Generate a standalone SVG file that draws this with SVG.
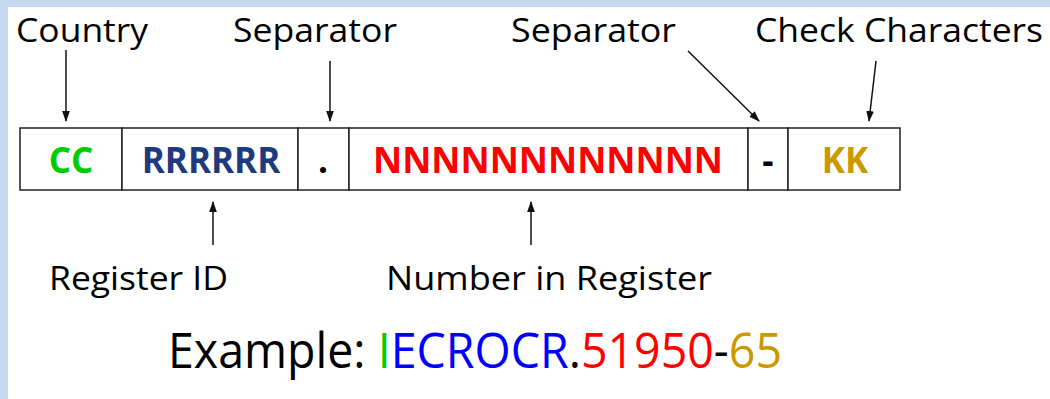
<svg xmlns="http://www.w3.org/2000/svg" width="1050" height="399" viewBox="0 0 1050 399">
<defs>
<style>
.lbl{font-family:"Open Sans","Noto Sans","Liberation Sans",sans-serif;font-size:32px;fill:#000}
.cell{font-family:"Open Sans","Noto Sans","Liberation Sans",sans-serif;font-size:35px;font-weight:bold;text-anchor:middle}
.box{fill:#fff;stroke:#222;stroke-width:1.5}
.conn line{stroke:#111;stroke-width:1.5;marker-end:url(#ah)}
</style>
<marker id="ah" viewBox="0 0 10 10" refX="9" refY="5" markerWidth="11" markerHeight="11" markerUnits="userSpaceOnUse" orient="auto"><path d="M0,1.5 L10,5 L0,8.5 z" fill="#111"/></marker>
</defs>
<rect x="0" y="0" width="1050" height="399" fill="#c6d9f1"/>
<rect x="8" y="7" width="1042" height="392" fill="#fff"/>

<g id="labels">
<text id="lbl-country" class="lbl" x="16" y="42" textLength="132" lengthAdjust="spacingAndGlyphs">Country</text>
<text id="lbl-sep1" class="lbl" x="233" y="42" textLength="164" lengthAdjust="spacingAndGlyphs">Separator</text>
<text id="lbl-sep2" class="lbl" x="511" y="42" textLength="165" lengthAdjust="spacingAndGlyphs">Separator</text>
<text id="lbl-check" class="lbl" x="755" y="42" textLength="288" lengthAdjust="spacingAndGlyphs">Check Characters</text>
<text id="lbl-reg" class="lbl" x="49" y="290" textLength="179" lengthAdjust="spacingAndGlyphs">Register ID</text>
<text id="lbl-num" class="lbl" x="386" y="290" textLength="326" lengthAdjust="spacingAndGlyphs">Number in Register</text>
</g>

<g id="format-box">
<g id="cell-cc"><rect class="box" x="20" y="128" width="102" height="62"/><text class="cell" x="71" y="173" fill="#00cc00">CC</text></g>
<g id="cell-r"><rect class="box" x="122" y="128" width="176" height="62"/><text class="cell" x="211" y="173" fill="#1f3a7e">RRRRRR</text></g>
<g id="cell-dot"><rect class="box" x="298" y="128" width="51" height="62"/><text class="cell" x="323" y="173" fill="#000">.</text></g>
<g id="cell-n"><rect class="box" x="349" y="128" width="399" height="62"/><text class="cell" x="548" y="173" fill="#ff0000" textLength="350" lengthAdjust="spacingAndGlyphs">NNNNNNNNNNNN</text></g>
<g id="cell-dash"><rect class="box" x="748" y="128" width="40" height="62"/><text class="cell" x="768" y="173" fill="#000">-</text></g>
<g id="cell-kk"><rect class="box" x="788" y="128" width="112" height="62"/><text class="cell" x="845" y="173" fill="#cc9900">KK</text></g>
</g>

<g id="connectors" class="conn">
<line x1="66" y1="50" x2="66" y2="121"/>
<line x1="330" y1="61" x2="330" y2="121"/>
<line x1="688" y1="51" x2="759" y2="121"/>
<line x1="876" y1="61" x2="869" y2="121"/>
<line x1="213" y1="245" x2="213" y2="202"/>
<line x1="531" y1="245" x2="531" y2="202"/>
</g>

<g id="example">
<text x="168" y="368" font-family="'Open Sans','Noto Sans','Liberation Sans',sans-serif" font-size="49" fill="#000" textLength="614" lengthAdjust="spacingAndGlyphs">Example: <tspan fill="#00cc00">I</tspan><tspan fill="#0000ff">ECROCR</tspan>.<tspan fill="#ff0000">51950</tspan>-<tspan fill="#cc9900">65</tspan></text>
</g>
</svg>
